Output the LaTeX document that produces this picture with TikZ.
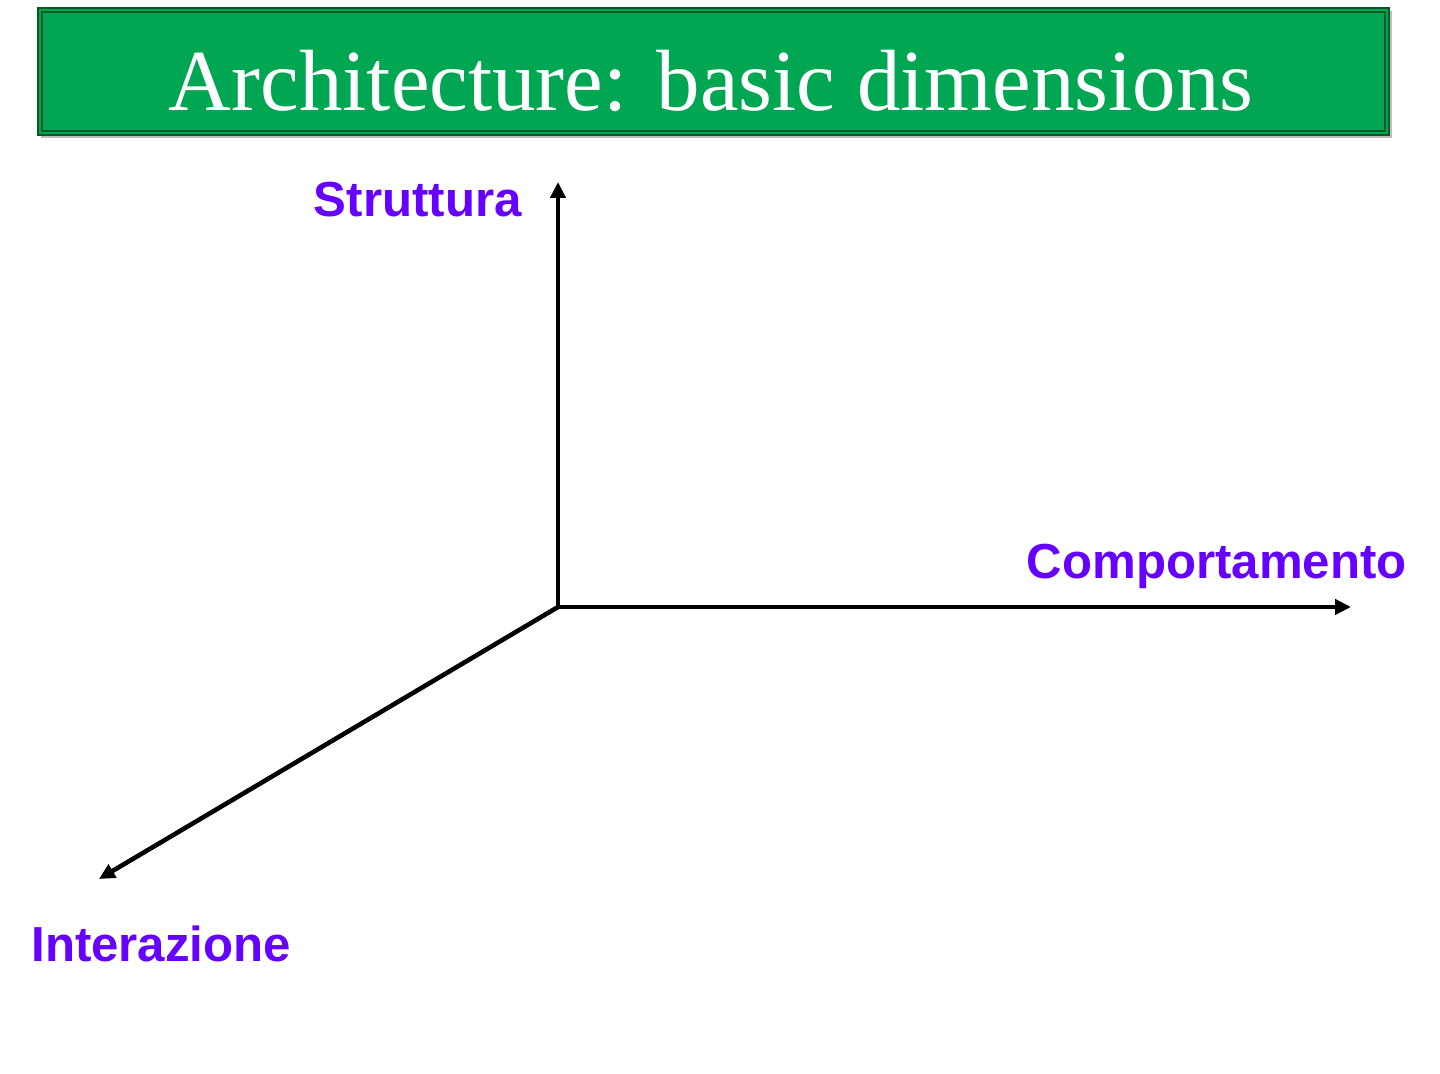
\documentclass[tikz,border=0pt]{standalone}
\usepackage{fontspec}
\setmainfont{Liberation Serif}
\newfontfamily\axisfont{Liberation Sans}
\usetikzlibrary{arrows.meta,positioning}

\definecolor{titlegreen}{RGB}{0,166,81}
\definecolor{titleedge}{RGB}{0,90,40}
\definecolor{axispurple}{RGB}{102,0,255}

\begin{document}
\begin{tikzpicture}[
    x=0.02cm, y=-0.02cm,
    titlebar/.style={draw=titleedge, line width=1.2pt, fill=titlegreen},
    axis/.style={-{Triangle[length=9pt, width=8.5pt]}, line width=2.6pt, black},
    axislabel/.style={font=\axisfont\bfseries\fontsize{28}{32}\selectfont, text=axispurple, inner sep=0pt},
    every node/.style={font=\small}
]
\useasboundingbox (0,0) rectangle (1440,1074);

% Title bar
\fill[black!25] (41,11) rectangle (1392,138);
\node[titlebar, minimum width=1351*0.02cm, minimum height=127*0.02cm, anchor=north west] (bar) at (37,7) {};
\draw[titleedge, line width=1pt] ([shift={(5,5)}]bar.north west) rectangle ([shift={(-5,-5)}]bar.south east);
\node[font=\fontsize{49.5}{56}\selectfont, text=white] (title) at (711,81) {Architecture: basic dimensions};

% Axes
\coordinate (origin) at (558,607);
\coordinate (up) at (558,182);
\coordinate (right) at (1351,607);
\coordinate (down) at (99,879);
\draw[axis] (origin) -- (up);
\draw[axis] (origin) -- (right);
\draw[axis] (origin) -- (down);

% Axis labels
\node[axislabel, anchor=east] (struttura) at (522,200) {Struttura};
\node[axislabel, anchor=east] (comportamento) at (1407,566) {Comportamento};
\node[axislabel, anchor=west] (interazione) at (31,944) {Interazione};

\end{tikzpicture}
\end{document}
